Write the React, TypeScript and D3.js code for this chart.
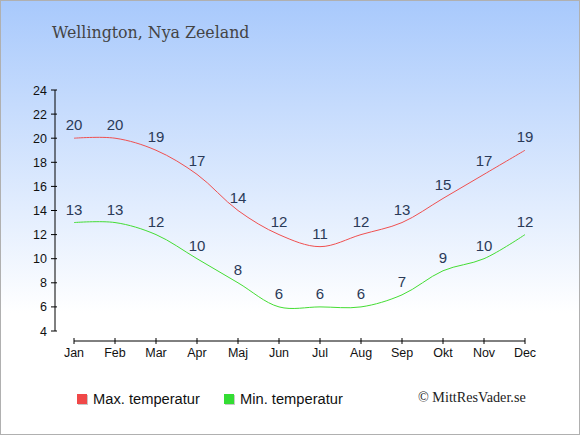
import * as d3 from 'd3';

const months = ['Jan', 'Feb', 'Mar', 'Apr', 'Maj', 'Jun', 'Jul', 'Aug', 'Sep', 'Okt', 'Nov', 'Dec'];
const maxTemp = [20, 20, 19, 17, 14, 12, 11, 12, 13, 15, 17, 19];
const minTemp = [13, 13, 12, 10, 8, 6, 6, 6, 7, 9, 10, 12];
const yTicks = [4, 6, 8, 10, 12, 14, 16, 18, 20, 22, 24];

const W = 580;
const H = 435;

export default function App() {
  const x = d3.scalePoint<string>().domain(months).range([74, 525]);
  const y = d3.scaleLinear().domain([4, 24]).range([331, 90]);

  const line = d3
    .line<number>()
    .x((_, i) => x(months[i]) as number)
    .y((d) => y(d))
    .curve(d3.curveCatmullRom.alpha(0.5));

  const labelColor = '#2a3a58';
  const sans = '"Liberation Sans", Arial, sans-serif';
  const serif = '"DejaVu Serif", serif';

  return (
    <svg
      width={W}
      height={H}
      style={{ position: 'absolute', left: 0, top: 0 }}
      fontFamily={sans}
    >
      <defs>
        <linearGradient id="bg" x1="0" y1="0" x2="0" y2="1">
          <stop offset="0" stopColor="#a8c9fc" />
          <stop offset="0.72" stopColor="#ffffff" />
          <stop offset="1" stopColor="#ffffff" />
        </linearGradient>
      </defs>
      <rect x={0.5} y={0.5} width={W - 1} height={H - 1} fill="url(#bg)" stroke="#b0b0b0" />

      <text x={52} y={38} fontFamily={serif} fontSize={15.8} fill="#444">
        Wellington, Nya Zeeland
      </text>

      {/* y axis */}
      <line x1={55} x2={55} y1={y(24)} y2={y(4)} stroke="#000" />
      {yTicks.map((t) => (
        <g key={t}>
          <line x1={51} x2={57} y1={y(t)} y2={y(t)} stroke="#000" />
          <text x={47} y={y(t) + 4.5} textAnchor="end" fontSize={12.5} fill="#111">
            {t}
          </text>
        </g>
      ))}

      {/* x axis */}
      <line x1={x('Jan')} x2={x('Dec')} y1={341} y2={341} stroke="#000" />
      {months.map((m) => (
        <g key={m}>
          <line x1={x(m)} x2={x(m)} y1={338} y2={344} stroke="#000" />
          <text x={x(m)} y={357} textAnchor="middle" fontSize={12.5} fill="#111">
            {m}
          </text>
        </g>
      ))}

      <path d={line(maxTemp) ?? ''} fill="none" stroke="#f05050" strokeWidth={1} />
      <path d={line(minTemp) ?? ''} fill="none" stroke="#44dd33" strokeWidth={1} />

      {maxTemp.map((v, i) => (
        <text key={'mx' + i} x={x(months[i])} y={y(v) - 8} textAnchor="middle" fontSize={15} fill={labelColor}>
          {v}
        </text>
      ))}
      {minTemp.map((v, i) => (
        <text key={'mn' + i} x={x(months[i])} y={y(v) - 8} textAnchor="middle" fontSize={15} fill={labelColor}>
          {v}
        </text>
      ))}

      {/* legend */}
      <rect x={78} y={395} width={10} height={10} fill="#c8c8c8" />
      <rect x={77} y={394} width={10} height={10} fill="#f04848" />
      <text x={93} y={403.5} fontSize={14.7} fill="#111">
        Max. temperatur
      </text>
      <rect x={225} y={395} width={10} height={10} fill="#c8c8c8" />
      <rect x={224} y={394} width={10} height={10} fill="#33dd33" />
      <text x={240} y={403.5} fontSize={14.7} fill="#111">
        Min. temperatur
      </text>
      <text x={418} y={402} fontFamily={'"Liberation Serif", serif'} fontSize={14.2} fill="#222">
        © MittResVader.se
      </text>
    </svg>
  );
}
